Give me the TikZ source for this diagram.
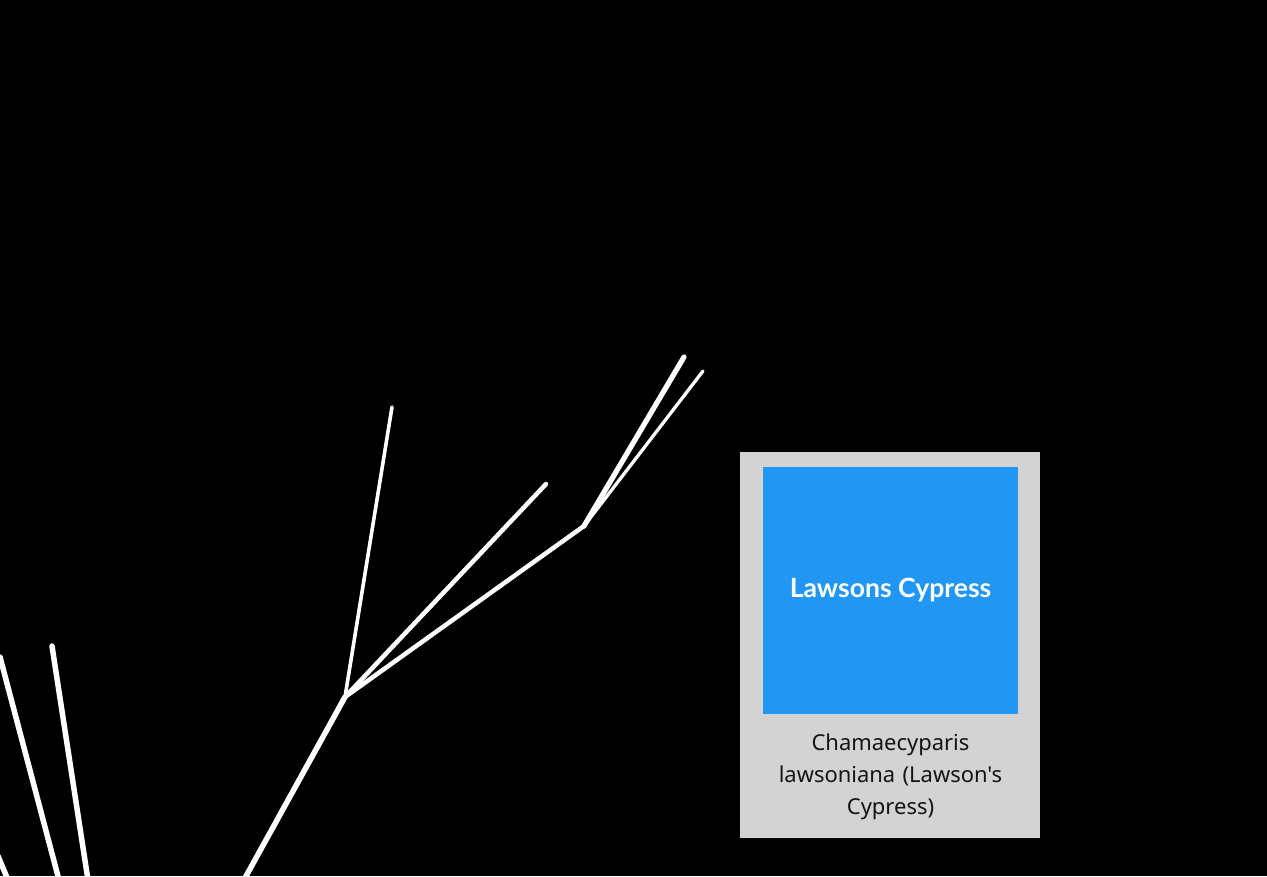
\documentclass[tikz,border=0pt]{standalone}
\usepackage{fontspec}
\usepackage{tikz}
\usetikzlibrary{positioning}
\newfontfamily\titlefont{Lato}
\newfontfamily\capfont{Noto Sans}
\definecolor{cardgray}{RGB}{211,211,211}
\definecolor{tileblue}{RGB}{33,150,243}

\begin{document}
\begin{tikzpicture}[
  x=0.02cm, y=-0.02cm,
  limb/.style={draw=white, line cap=round, line width=0.09cm},
  twig/.style={draw=white, line cap=round, line width=0.072cm},
  card/.style={fill=cardgray, draw=none, minimum width=6cm, minimum height=7.72cm, inner sep=0pt},
  tile/.style={fill=tileblue, draw=none, minimum width=5.1cm, minimum height=4.94cm, inner sep=0pt,
               text=white, font=\titlefont\bfseries\fontsize{15.1}{18}\selectfont},
  caption/.style={align=center, text width=5.4cm, inner sep=0pt,
                  font=\capfont\fontsize{12.5}{18.2}\selectfont, text=black!92}
]
  \fill[black] (0,0) rectangle (1267,876);
  \useasboundingbox (0,0) rectangle (1267,876);
  % branch points
  \coordinate (root) at (245,878);
  \coordinate (fork) at (345,697);
  \coordinate (tipa) at (392,407);
  \coordinate (tipb) at (546,484);
  \coordinate (knee) at (584,526);
  \coordinate (tipc) at (684,357);
  \coordinate (tipd) at (703,371);
  \coordinate (lefta) at (0,657);
  \coordinate (leftaend) at (59,880);
  \coordinate (leftb) at (52,646);
  \coordinate (leftbend) at (88,880);
  \coordinate (leftc) at (-2,856);
  \coordinate (leftcend) at (8,880);
  % tree
  \draw[limb, line width=0.11cm] (root) -- (fork);
  \draw[twig] (fork) -- (tipa);
  \draw[limb] (fork) -- (tipb);
  \draw[limb] (fork) -- (knee);
  \draw[limb, line width=0.105cm] (knee) -- (tipc);
  \draw[twig, line width=0.066cm] (knee) -- (tipd);
  \draw[limb, line width=0.11cm] (lefta) -- (leftaend);
  \draw[limb, line width=0.11cm] (leftb) -- (leftbend);
  \draw[limb, line width=0.11cm] (leftc) -- (leftcend);
  % card
  \node[card] (info) at (890,645) {};
  \node[tile] (name) at (890.5,590.5) {Lawsons Cypress};
  \node[caption, below=0.38cm of name] (latin) {Chamaecyparis\\lawsoniana (Lawson's\\Cypress)};
\end{tikzpicture}
\end{document}
